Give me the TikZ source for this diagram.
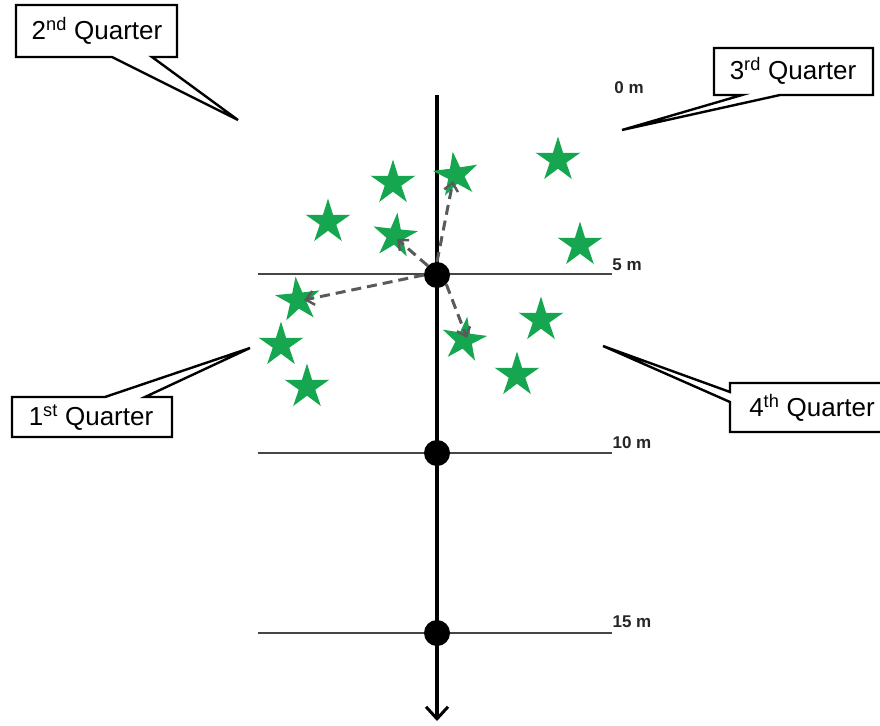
\documentclass[tikz,border=0pt]{standalone}
\usepackage{fontspec}
\setmainfont{Liberation Sans}
\usetikzlibrary{shapes.geometric,arrows.meta}
\definecolor{stargreen}{RGB}{22,166,80}
\definecolor{dashgray}{RGB}{90,90,90}
\definecolor{linegray}{RGB}{70,70,70}
\tikzset{
  callout/.style={draw=black,line width=2.4pt,fill=white,line join=miter},
  qtext/.style={font=\fontsize{26}{29}\selectfont,inner sep=0pt},
  dist/.style={font=\fontsize{17}{19}\selectfont\bfseries,text=black!85,inner sep=0pt},
  greenstar/.style={star,star points=5,star point ratio=2.7,fill=stargreen,draw=none,minimum size=47pt,inner sep=0pt},
  dot/.style={circle,fill=black,minimum size=26pt,inner sep=0pt},
  depthline/.style={draw=linegray,line width=1.8pt},
  probe/.style={draw=dashgray,line width=3pt,dash pattern=on 10pt off 6pt,-{Straight Barb[length=8pt,width=14pt,line width=2.5pt]}},
}
\begin{document}
\begin{tikzpicture}[x=1pt,y=-1pt]
\useasboundingbox (0,0) rectangle (880,725);
\fill[white] (0,0) rectangle (880,725);

% depth lines
\coordinate (l5a) at (258,274); \coordinate (l5b) at (612,274);
\coordinate (l10a) at (258,453); \coordinate (l10b) at (612,453);
\coordinate (l15a) at (258,633); \coordinate (l15b) at (612,633);
\draw[depthline] (l5a) -- (l5b);
\draw[depthline] (l10a) -- (l10b);
\draw[depthline] (l15a) -- (l15b);

% main axis
\coordinate (top) at (437,95);
\coordinate (bottom) at (437,721);
\draw[line width=3.8pt,-{Straight Barb[length=12pt,width=22pt,line width=3pt]}] (top) -- (bottom);

% stars
\node[greenstar] (s1) at (393,183) {};
\node[greenstar,rotate=8] (s2) at (456,175) {};
\node[greenstar] (s3) at (558,160) {};
\node[greenstar] (s4) at (328,222) {};
\node[greenstar,rotate=-6] (s5) at (395,236) {};
\node[greenstar] (s6) at (580,245) {};
\node[greenstar,rotate=6] (s7) at (298,300) {};
\node[greenstar] (s8) at (281,345) {};
\node[greenstar] (s9) at (307,387) {};
\node[greenstar,rotate=-8] (s10) at (464,340) {};
\node[greenstar] (s11) at (541,320) {};
\node[greenstar] (s12) at (517,375) {};

% dots
\node[dot] (d5) at (437,275) {};
\node[dot] (d10) at (437,453) {};
\node[dot] (d15) at (437,633) {};

% probes
\coordinate (t2) at (453,181);
\coordinate (t5) at (397,239);
\coordinate (t7) at (304,300);
\coordinate (t10) at (467,338);
\draw[probe] (d5.north) -- (t2);
\draw[probe] (d5.north west) -- (t5);
\draw[probe] (d5.west) -- (t7);
\draw[probe] (d5.south east) -- (t10);

% depth labels
\node[dist] (m0) at (629,88) {0 m};
\node[dist] (m5) at (627,265) {5 m};
\node[dist] (m10) at (632,443) {10 m};
\node[dist] (m15) at (632,622) {15 m};

% callouts
\draw[callout] (16,5) -- (177,5) -- (177,57) -- (152,57) -- (238,120) -- (112,57) -- (16,57) -- cycle;
\node[qtext] (q2) at (97,31) {2\textsuperscript{nd} Quarter};

\draw[callout] (714,48) -- (873,48) -- (873,95) -- (780,95) -- (622,130) -- (742,95) -- (714,95) -- cycle;
\node[qtext] (q3) at (793,71) {3\textsuperscript{rd} Quarter};

\draw[callout] (12,397) -- (105,397) -- (250,348) -- (145,397) -- (172,397) -- (172,437) -- (12,437) -- cycle;
\node[qtext] (q1) at (91,418) {1\textsuperscript{st} Quarter};

\draw[callout] (730,383) -- (886,383) -- (886,432) -- (730,432) -- (730,402) -- (603,346) -- (730,392) -- cycle;
\node[qtext] (q4) at (812,408) {4\textsuperscript{th} Quarter};
\end{tikzpicture}
\end{document}
